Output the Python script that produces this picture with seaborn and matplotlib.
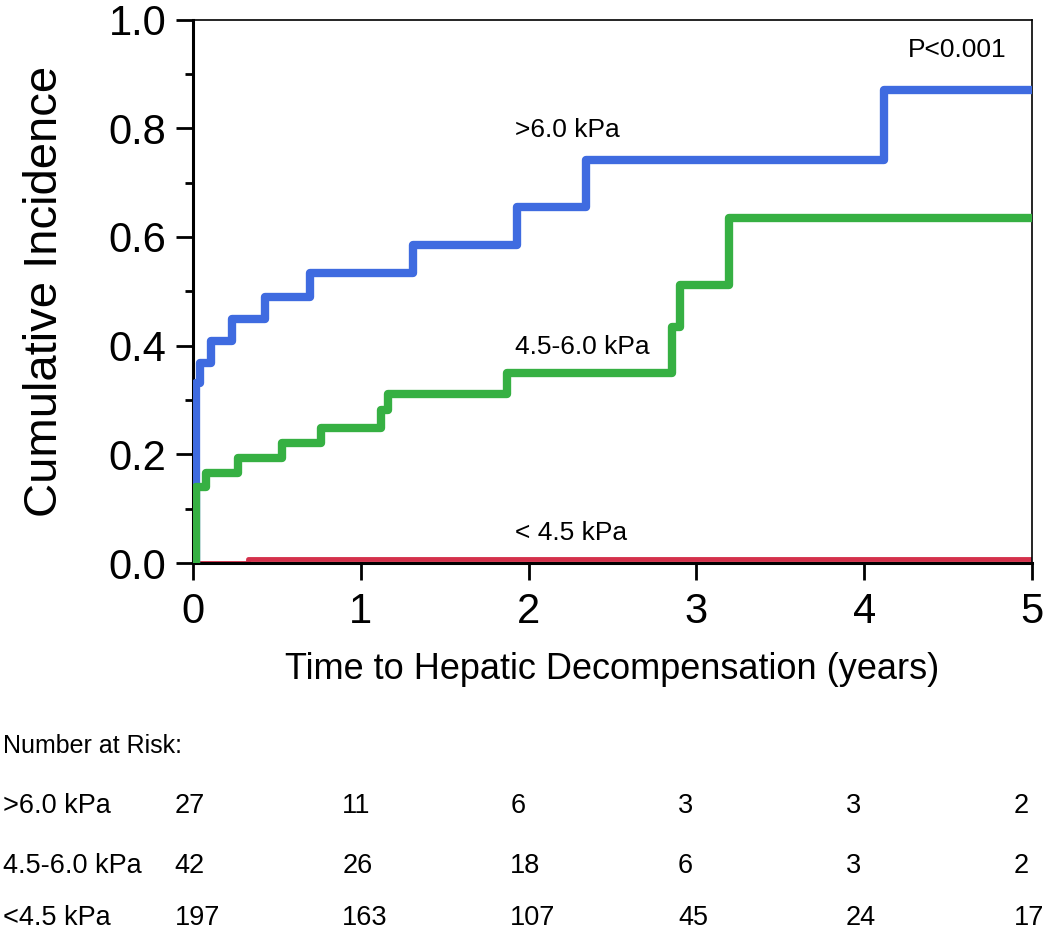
import numpy as np
import pandas as pd
import matplotlib
matplotlib.use("Agg")
import matplotlib.pyplot as plt
import matplotlib.transforms as mtransforms
import seaborn as sns

# Step curves (time in years, cumulative incidence)
t_high = [0, 0.02, 0.04, 0.11, 0.23, 0.43, 0.70, 1.31, 1.93, 2.34, 4.12, 5.0]
y_high = [0, 0.331, 0.368, 0.408, 0.449, 0.489, 0.534, 0.585, 0.655, 0.741, 0.870, 0.870]

t_mid = [0, 0.02, 0.08, 0.27, 0.53, 0.76, 1.12, 1.16, 1.87, 2.855, 2.90, 3.195, 5.0]
y_mid = [0, 0.140, 0.166, 0.193, 0.221, 0.248, 0.282, 0.311, 0.350, 0.434, 0.511, 0.635, 0.635]

t_low = [0, 0.33, 5.0]
y_low = [0, 0.007, 0.007]

# Number at risk table
risk_times = [0, 1, 2, 3, 4, 5]
risk_groups = [">6.0 kPa", "4.5-6.0 kPa", "<4.5 kPa"]
risk_high = [27, 11, 6, 3, 3, 2]
risk_mid = [42, 26, 18, 6, 3, 2]
risk_low = [197, 163, 107, 45, 24, 17]

df_high = pd.DataFrame({"time": t_high, "inc": y_high})
df_mid = pd.DataFrame({"time": t_mid, "inc": y_mid})
df_low = pd.DataFrame({"time": t_low, "inc": y_low})

sns.set_style("ticks")
plt.rcParams["font.family"] = ["Liberation Sans", "DejaVu Sans"]
plt.rcParams["text.color"] = "black"
plt.rcParams["axes.labelcolor"] = "black"
plt.rcParams["xtick.color"] = "black"
plt.rcParams["ytick.color"] = "black"
plt.rcParams["axes.edgecolor"] = "black"

fig = plt.figure(figsize=(10.5, 9.32), dpi=100)
ax = fig.add_axes([0.1838, 0.3959, 0.7991, 0.5831])

sns.lineplot(data=df_high, x="time", y="inc", ax=ax, color="#3f6be0", linewidth=6,
             drawstyle="steps-post", estimator=None, solid_capstyle="butt", zorder=3)
sns.lineplot(data=df_mid, x="time", y="inc", ax=ax, color="#36b043", linewidth=6,
             drawstyle="steps-post", estimator=None, solid_capstyle="butt", zorder=3)
sns.lineplot(data=df_low, x="time", y="inc", ax=ax, color="#d4304b", linewidth=3.5,
             drawstyle="steps-post", estimator=None, solid_capstyle="butt", zorder=2)

ax.set_xlim(0, 5)
ax.set_ylim(0, 1.0)
ax.set_xticks(range(6))
ax.set_yticks(np.arange(0, 1.01, 0.2))
ax.set_yticks(np.arange(0.1, 1.0, 0.2), minor=True)
ax.yaxis.set_major_formatter(matplotlib.ticker.FormatStrFormatter("%.1f"))

for side in ["left", "bottom"]:
    ax.spines[side].set_linewidth(2.2)
for side in ["top", "right"]:
    ax.spines[side].set_linewidth(1.2)
    ax.spines[side].set_visible(True)

ax.tick_params(axis="both", which="major", direction="out", length=12, width=2,
               labelsize=30)
ax.tick_params(axis="x", which="major", pad=9)
ax.tick_params(axis="y", which="major", pad=7)
ax.tick_params(axis="y", which="minor", direction="out", length=6, width=2)

ax.set_xlabel("Time to Hepatic Decompensation (years)", fontsize=26, labelpad=14)
ax.set_ylabel("Cumulative Incidence", fontsize=34, labelpad=30)

# curve labels
ax.text(1.92, 0.797, ">6.0 kPa", fontsize=19, va="center", ha="left")
ax.text(1.92, 0.397, "4.5-6.0 kPa", fontsize=19, va="center", ha="left")
ax.text(1.92, 0.055, "< 4.5 kPa", fontsize=19, va="center", ha="left")
ax.text(4.26, 0.944, "P<0.001", fontsize=19, va="center", ha="left")

# number at risk table below the plot
trans = mtransforms.blended_transform_factory(ax.transData, fig.transFigure)
fig.text(3 / 1050, 1 - 746 / 932, "Number at Risk:", fontsize=18,
         va="center", ha="left")
row_y = [806, 866, 918]
for name, counts, yy in zip(risk_groups, [risk_high, risk_mid, risk_low], row_y):
    fig.text(3 / 1050, 1 - yy / 932, name, fontsize=19.5, va="center", ha="left")
    for t, n in zip(risk_times, counts):
        fig.text(t - 0.11, 1 - yy / 932, str(n), fontsize=19.5,
                 va="center", ha="left", transform=trans)

fig.savefig("out.png", dpi=100)
